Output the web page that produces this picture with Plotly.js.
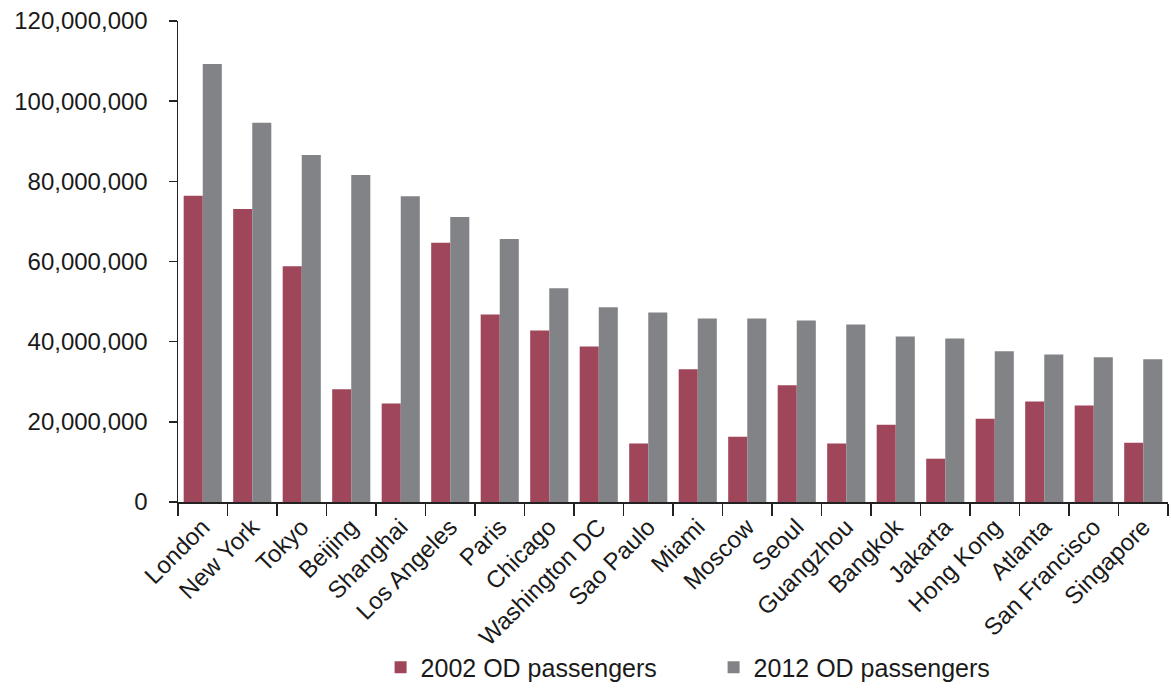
<!DOCTYPE html>
<html>
<head>
<meta charset="utf-8">
<script src="https://cdn.plot.ly/plotly-3.0.1.min.js"></script>
<style>html,body{margin:0;padding:0;background:#fff;}#chart{width:1171px;height:695px;}</style>
</head>
<body>
<div id="chart"></div>
<script>
const cities = ["London","New York","Tokyo","Beijing","Shanghai","Los Angeles","Paris","Chicago","Washington DC","Sao Paulo","Miami","Moscow","Seoul","Guangzhou","Bangkok","Jakarta","Hong Kong","Atlanta","San Francisco","Singapore"];
const pax2002 = [76400000,73100000,58800000,28100000,24600000,64700000,46800000,42800000,38800000,14600000,33100000,16300000,29100000,14600000,19300000,10800000,20800000,25100000,24100000,14800000];
const pax2012 = [109300000,94600000,86600000,81600000,76300000,71100000,65600000,53300000,48600000,47300000,45800000,45800000,45300000,44300000,41300000,40800000,37600000,36800000,36100000,35600000];
const seriesNames = ["2002 OD passengers","2012 OD passengers"];
const seriesColors = ["#9f465b","#828387"];

const font = {family: "Liberation Sans, Arial, sans-serif", size: 24, color: "#1a1a1a"};
const legendFont = {family: "Liberation Sans, Arial, sans-serif", size: 25, color: "#1a1a1a"};
const data = [
  {type: "bar", name: seriesNames[0], x: cities, y: pax2002, marker: {color: seriesColors[0]}, hoverinfo: "skip"},
  {type: "bar", name: seriesNames[1], x: cities, y: pax2012, marker: {color: seriesColors[1]}, hoverinfo: "skip"}
];
const layout = {
  width: 1171, height: 695,
  margin: {l: 178, r: 3, t: 21, b: 193},
  paper_bgcolor: "#fff", plot_bgcolor: "#fff",
  font: font,
  barmode: "group",
  bargap: 0.23,
  bargroupgap: 0,
  showlegend: true,
  legend: {orientation: "h", x: 0.541, xanchor: "center", y: -0.392, yanchor: "bottom", font: legendFont, itemwidth: 30, entrywidth: 288, tracegroupgap: 0},
  xaxis: {
    type: "category", tickangle: -45, showline: true, linecolor: "#222", linewidth: 1.5,
    ticks: "outside", tickson: "boundaries", ticklen: 12, tickcolor: "#222", tickwidth: 1.5,
    showgrid: false, zeroline: false, tickfont: font, automargin: false
  },
  yaxis: {
    range: [0, 120000000], dtick: 20000000, tick0: 0, tickformat: ",d",
    showline: true, linecolor: "#222", linewidth: 1.5, ticks: "outside", ticklen: 8,
    tickcolor: "#222", tickwidth: 1.5, showgrid: false, zeroline: false,
    ticklabelstandoff: 16, tickfont: font, automargin: false
  }
};
Plotly.newPlot("chart", data, layout, {displayModeBar: false, staticPlot: true});
</script>
</body>
</html>
